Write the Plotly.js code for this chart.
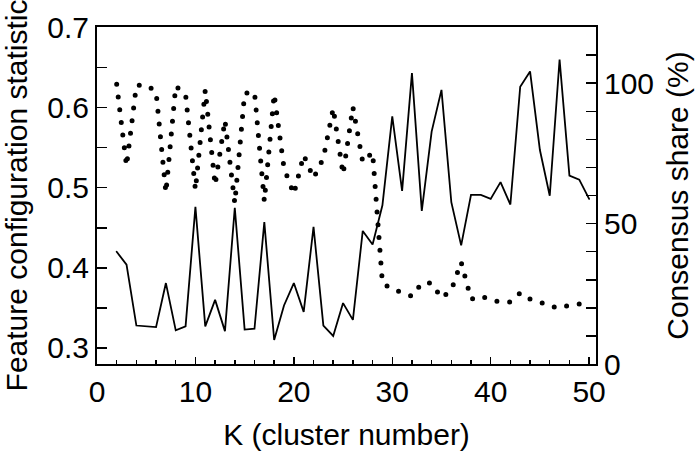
<!DOCTYPE html>
<html>
<head>
<meta charset="utf-8">
<script src="https://cdn.plot.ly/plotly-3.0.1.min.js"></script>
<style>
  html, body { margin: 0; padding: 0; background: #fff; }
  #chart { width: 700px; height: 455px; }
  .js-line { stroke-linecap: round !important; }
</style>
</head>
<body>
<div id="chart"></div>
<script>
// K values (cluster number)
var kValues = [2, 3, 4, 5, 6, 7, 8, 9, 10, 11, 12, 13, 14, 15, 16, 17, 18, 19, 20,
    21, 22, 23, 24, 25, 26, 27, 28, 29, 30, 31, 32, 33, 34, 35, 36, 37, 38, 39, 40,
    41, 42, 43, 44, 45, 46, 47, 48, 49, 50];

// left axis: feature configuration statistic
var featureStat = [0.420, 0.404, 0.328, 0.327, 0.326, 0.381, 0.322, 0.327, 0.476, 0.327,
    0.360, 0.321, 0.475, 0.323, 0.324, 0.457, 0.310, 0.353, 0.381, 0.345,
    0.451, 0.328, 0.315, 0.356, 0.335, 0.446, 0.429, 0.478, 0.589, 0.496,
    0.643, 0.471, 0.570, 0.622, 0.482, 0.428, 0.491, 0.491, 0.486, 0.507,
    0.479, 0.626, 0.645, 0.547, 0.490, 0.660, 0.515, 0.510, 0.486];

// right axis: consensus share (%)
var consensusShare = [99.6, 70.5, 99.2, 99.3, 97, 61, 99, 96, 62, 97.5,
    63.7, 86.8, 57.3, 96.4, 96.8, 58, 96.1, 69.8, 60.5, 74.4,
    66.2, 73.3, 91.1, 67.6, 91.5, 71.9, 75.4, 28.8, 26.7, 25.3,
    24.1, 28.8, 28.8, 23.5, 26.3, 36.3, 23.1, 24.2, 22.8, 22.1,
    22.1, 25.3, 23.1, 22.1, 20.6, 19.9, 21, 21.4, 21.4];

var font = {family: 'Liberation Sans, Arial, sans-serif', size: 30, color: '#000'};

var Stat = {
    type: 'scatter',
    x: kValues,
    y: featureStat,
    mode: 'lines',
    name: 'Feature configuration statistic',
    line: {color: '#000', width: 1.8}
}

var Share = {
    type: 'scatter',
    x: kValues,
    y: consensusShare,
    yaxis: 'y2',
    mode: 'lines',
    name: 'Consensus share',
    line: {color: '#000', width: 5, dash: '0px,12.8px'}
}

var layout = {
    width: 700,
    height: 455,
    margin: {l: 97, r: 104, t: 27, b: 91},
    paper_bgcolor: '#fff',
    plot_bgcolor: '#fff',
    showlegend: false,
    font: font,
    xaxis: {
        range: [0, 50.7],
        dtick: 10,
        ticks: 'inside',
        ticklen: 7,
        tickwidth: 1.5,
        tickcolor: '#000',
        minor: {dtick: 2, ticks: 'inside', ticklen: 4, tickwidth: 1.5, tickcolor: '#000'},
        showline: true,
        linewidth: 2,
        linecolor: '#000',
        mirror: true,
        showgrid: false,
        zeroline: false,
        tickfont: font,
        title: {text: 'K (cluster number)', font: font, standoff: 17}
    },
    yaxis: {
        range: [0.28, 0.7005],
        dtick: 0.1,
        tickformat: '.1f',
        ticks: 'inside',
        ticklen: 10,
        tickwidth: 1.5,
        tickcolor: '#000',
        minor: {dtick: 0.05, ticks: 'inside', ticklen: 10, tickwidth: 1.5, tickcolor: '#000'},
        showline: true,
        linewidth: 2,
        linecolor: '#000',
        showgrid: false,
        zeroline: false,
        tickfont: font,
        title: {text: 'Feature configuration statistic', font: font, standoff: 16}
    },
    yaxis2: {
        overlaying: 'y',
        side: 'right',
        range: [0, 120],
        dtick: 50,
        ticks: 'inside',
        ticklen: 10,
        tickwidth: 1.5,
        tickcolor: '#000',
        minor: {dtick: 10, ticks: 'inside', ticklen: 10, tickwidth: 1.5, tickcolor: '#000'},
        showline: true,
        linewidth: 2,
        linecolor: '#000',
        showgrid: false,
        zeroline: false,
        tickfont: font,
        title: {text: 'Consensus share (%)', font: font, standoff: 14}
    }
}

Plotly.newPlot('chart', [Stat, Share], layout, {staticPlot: true});
</script>
</body>
</html>
